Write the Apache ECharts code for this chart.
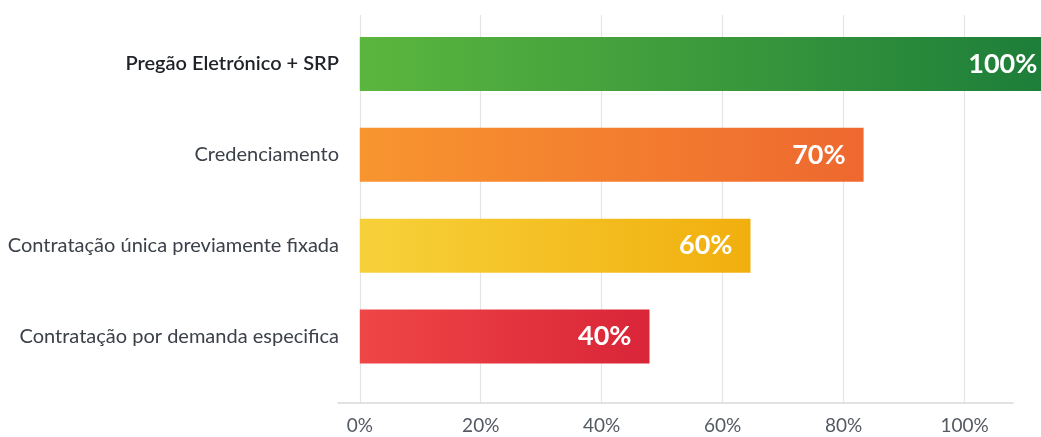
<!DOCTYPE html>
<html>
<head>
<meta charset="utf-8">
<script src="https://cdn.jsdelivr.net/npm/echarts@6/dist/echarts.min.js"></script>
<style>
  html, body { margin: 0; padding: 0; background: #fff; }
  #chart { width: 1041px; height: 437px; }
</style>
</head>
<body>
<div id="chart"></div>
<script>
var categories = ['Pregão Eletrónico + SRP', 'Credenciamento', 'Contratação única previamente fixada', 'Contratação por demanda especifica'];
// drawn bar lengths (axis %) as they appear in the picture
var barValues = [115, 83.3, 64.6, 47.9];
// text printed on each bar
var barLabels = ['100%', '70%', '60%', '40%'];
var tickValues = [0, 20, 40, 60, 80, 100];
var barColors = [
    ['#5bb63e', '#1c7d3a'],
    ['#f8952f', '#ee682f'],
    ['#f7d13a', '#f1af0e'],
    ['#ef4646', '#d92538']
];

function buildData() {
    return barValues.map(function (v, i) {
        return {
            value: v,
            itemStyle: {
                color: new echarts.graphic.LinearGradient(0, 0, 1, 0, [
                    { offset: 0, color: barColors[i][0] },
                    { offset: 1, color: barColors[i][1] }
                ])
            }
        };
    });
}

var font = 'Lato, "Noto Sans", sans-serif';

var option = {
    backgroundColor: '#fff',
    animation: false,
    grid: [
        { left: 338, right: 28, top: 15, bottom: 34 },
        { left: 338, right: 28, top: 18.5, bottom: 55 }
    ],
    xAxis: [{
        gridIndex: 0,
        type: 'value',
        min: -3.6,
        max: 108,
        axisLine: { show: true, lineStyle: { color: '#d9d9d9', width: 1.5 } },
        axisTick: { show: false, customValues: tickValues },
        splitLine: { show: true, lineStyle: { color: '#e4e4e4', width: 1.2 } },
        axisLabel: {
            customValues: tickValues,
            formatter: '{value}%',
            color: '#545a62',
            fontSize: 19,
            fontFamily: font,
            margin: 13
        }
    }, {
        gridIndex: 1,
        type: 'value',
        min: -3.6,
        max: 108,
        show: false
    }],
    yAxis: [{
        gridIndex: 0,
        type: 'value',
        show: false
    }, {
        gridIndex: 1,
        type: 'category',
        inverse: true,
        data: categories,
        axisLine: { show: false },
        axisTick: { show: false },
        axisLabel: {
            color: '#3b4049',
            fontSize: 20,
            fontFamily: font,
            margin: -1,
            formatter: function (v, i) {
                return i === 0 ? '{b|' + v + '}' : v;
            },
            rich: {
                b: { color: '#1f2328', fontSize: 20, fontFamily: font, fontWeight: 600 }
            }
        }
    }],
    series: [{
        type: 'bar',
        xAxisIndex: 1,
        yAxisIndex: 1,
        barWidth: 54,
        clip: false,
        label: {
            show: true,
            position: 'insideRight',
            distance: 18,
            color: '#fff',
            fontSize: 27,
            fontWeight: 'bold',
            fontFamily: font,
            formatter: function (p) { return barLabels[p.dataIndex]; }
        },
        data: buildData()
    }]
};

var myChart = echarts.init(document.getElementById('chart'));
myChart.setOption(option);
</script>
</body>
</html>
